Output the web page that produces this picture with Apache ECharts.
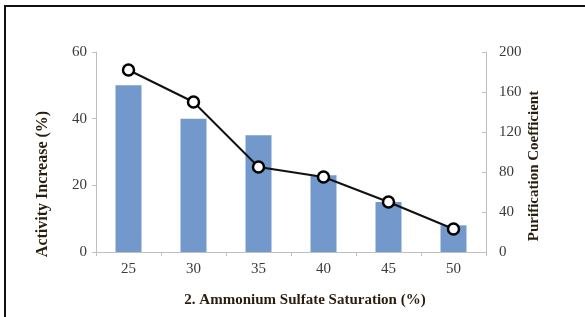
<!DOCTYPE html>
<html>
<head>
<meta charset="utf-8">
<script src="https://cdn.jsdelivr.net/npm/echarts@6/dist/echarts.min.js"></script>
<style>
html,body{margin:0;padding:0;background:#fff;}
#c{width:585px;height:317px;}
</style>
</head>
<body>
<div id="c"></div>
<script>
var categories = ['25', '30', '35', '40', '45', '50'];
var activityIncrease = [50, 40, 35, 23, 15, 8];
var purificationCoefficient = [182, 150, 85, 75, 50, 23];
var leftTicks = [0, 20, 40, 60];
var rightTicks = [0, 40, 80, 120, 160, 200];

var serif = '"Liberation Serif", "Times New Roman", serif';
var chart = echarts.init(document.getElementById('c'));
chart.setOption({
  animation: false,
  backgroundColor: '#fff',
  grid: { left: 96, right: 99, top: 52, bottom: 65 },
  xAxis: {
    type: 'category',
    data: categories,
    axisLine: { lineStyle: { color: '#bfbfbf', width: 1 } },
    axisTick: { show: true, alignWithLabel: false, length: 4, lineStyle: { color: '#bfbfbf' } },
    axisLabel: { color: '#3a3a3a', fontFamily: serif, fontSize: 15, margin: 10 }
  },
  yAxis: [{
    type: 'value',
    min: leftTicks[0], max: leftTicks[leftTicks.length - 1], interval: 20,
    axisLine: { show: true, lineStyle: { color: '#bfbfbf' } },
    axisTick: { show: true, length: 4, lineStyle: { color: '#bfbfbf' } },
    splitLine: { show: false },
    axisLabel: { color: '#3a3a3a', fontFamily: serif, fontSize: 15, margin: 9 }
  }, {
    type: 'value',
    position: 'right',
    min: rightTicks[0], max: rightTicks[rightTicks.length - 1], interval: 40,
    axisLine: { show: true, lineStyle: { color: '#bfbfbf' } },
    axisTick: { show: true, inside: true, length: 4, lineStyle: { color: '#bfbfbf' } },
    splitLine: { show: false },
    axisLabel: { color: '#3a3a3a', fontFamily: serif, fontSize: 15, margin: 13 }
  }],
  series: [{
    type: 'bar',
    data: activityIncrease,
    yAxisIndex: 0,
    barWidth: '40%',
    itemStyle: { color: '#7399cc' }
  }, {
    type: 'line',
    data: purificationCoefficient,
    yAxisIndex: 1,
    symbol: 'circle',
    symbolSize: 11,
    lineStyle: { color: '#111', width: 2 },
    itemStyle: { color: '#fff', borderColor: '#000', borderWidth: 2.5 }
  }],
  graphic: [
    { type: 'line', shape: { x1: 5, y1: 6, x2: 5, y2: 317 }, style: { stroke: '#111', lineWidth: 2 } },
    { type: 'line', shape: { x1: 4, y1: 6, x2: 585, y2: 6 }, style: { stroke: '#111', lineWidth: 2 } },
    { type: 'text', x: 43, y: 184, rotation: Math.PI / 2,
      style: { text: 'Activity Increase (%)', fill: '#2b1d0e', font: 'bold 16px ' + serif, textAlign: 'center', textVerticalAlign: 'middle' } },
    { type: 'text', x: 534, y: 166, rotation: Math.PI / 2,
      style: { text: 'Purification Coefficient', fill: '#2b1d0e', font: 'bold 15px ' + serif, textAlign: 'center', textVerticalAlign: 'middle' } },
    { type: 'text', x: 305, y: 300,
      style: { text: '2. Ammonium Sulfate Saturation (%)', fill: '#2b1d0e', font: 'bold 15px ' + serif, textAlign: 'center', textVerticalAlign: 'middle' } }
  ]
});
</script>
</body>
</html>
